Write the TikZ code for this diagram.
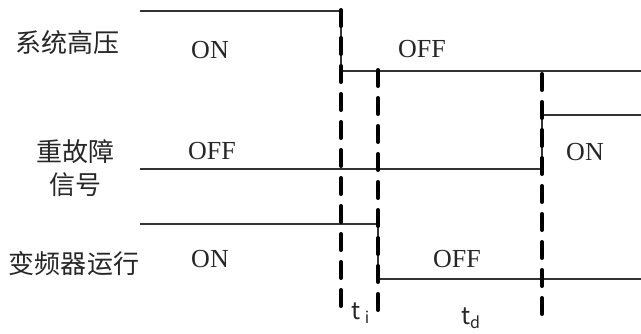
\documentclass[tikz,border=0pt]{standalone}
\usepackage{fontspec}
\setmainfont{Liberation Serif}
\newfontfamily\cjk{Noto Sans CJK SC}
\usetikzlibrary{positioning}

\begin{document}
\begin{tikzpicture}[
    x=0.5pt, y=-0.5pt,
    signal/.style={line width=0.7pt, black!80},
    edge/.style={line width=2pt, line cap=round, dash pattern=on 8pt off 6pt},
    signame/.style={font=\cjk\fontsize{13}{16.5}\selectfont, align=center, text=black!85},
    state/.style={font=\fontsize{13}{15}\selectfont, text=black!85},
    timing/.style={font=\cjk\fontsize{12}{14}\selectfont, text=black!85}
]

\useasboundingbox (0,0) rectangle (641,333);

% -------------------------
% Signal names
% -------------------------
\node[signame] (hv) at (67,43) {系统高压};
\node[signame] (fault) at (75,168) {重故障\\信号};
\node[signame] (vfd) at (74,264) {变频器运行};

% -------------------------
% Switching instants (dashed)
% -------------------------
\coordinate (e1top) at (341,10);  \coordinate (e1bot) at (341,316);
\coordinate (e2top) at (378,70);  \coordinate (e2bot) at (378,313);
\coordinate (e3top) at (542,74);  \coordinate (e3bot) at (542,320);

% -------------------------
% Signal levels
% -------------------------
\coordinate (hvL) at (140,11);    \coordinate (hvR) at (641,71);
\coordinate (fltL) at (140,169);  \coordinate (fltR) at (641,115);
\coordinate (vfdL) at (140,224);  \coordinate (vfdR) at (641,279);

% system high voltage: ON -> OFF at first instant
\draw[signal] (hvL) -- (hvL -| e1top) -- (hvR -| e1top) -- (hvR);
% heavy fault: OFF -> ON at third instant
\draw[signal] (fltL) -- (fltL -| e3top) -- (fltR -| e3top) -- (fltR);
% inverter running: ON -> OFF at second instant
\draw[signal] (vfdL) -- (vfdL -| e2top) -- (vfdR -| e2top) -- (vfdR);

\draw[edge] (e1top) -- (e1bot);
\draw[edge] (e2top) -- (e2bot);
\draw[edge] (e3top) -- (e3bot);

% -------------------------
% States
% -------------------------
\node[state] (hvOn) at (210,50) {ON};
\node[state] (hvOff) at (422,49) {OFF};
\node[state] (fltOff) at (212,151) {OFF};
\node[state] (fltOn) at (585,152) {ON};
\node[state] (vfdOn) at (210,259) {ON};
\node[state] (vfdOff) at (457,259) {OFF};

% -------------------------
% Intervals
% -------------------------
\node[timing] (ti) at (361,313) {t\,\textsubscript{i}};
\node[timing] (td) at (471,318) {t\textsubscript{d}};

\end{tikzpicture}
\end{document}
